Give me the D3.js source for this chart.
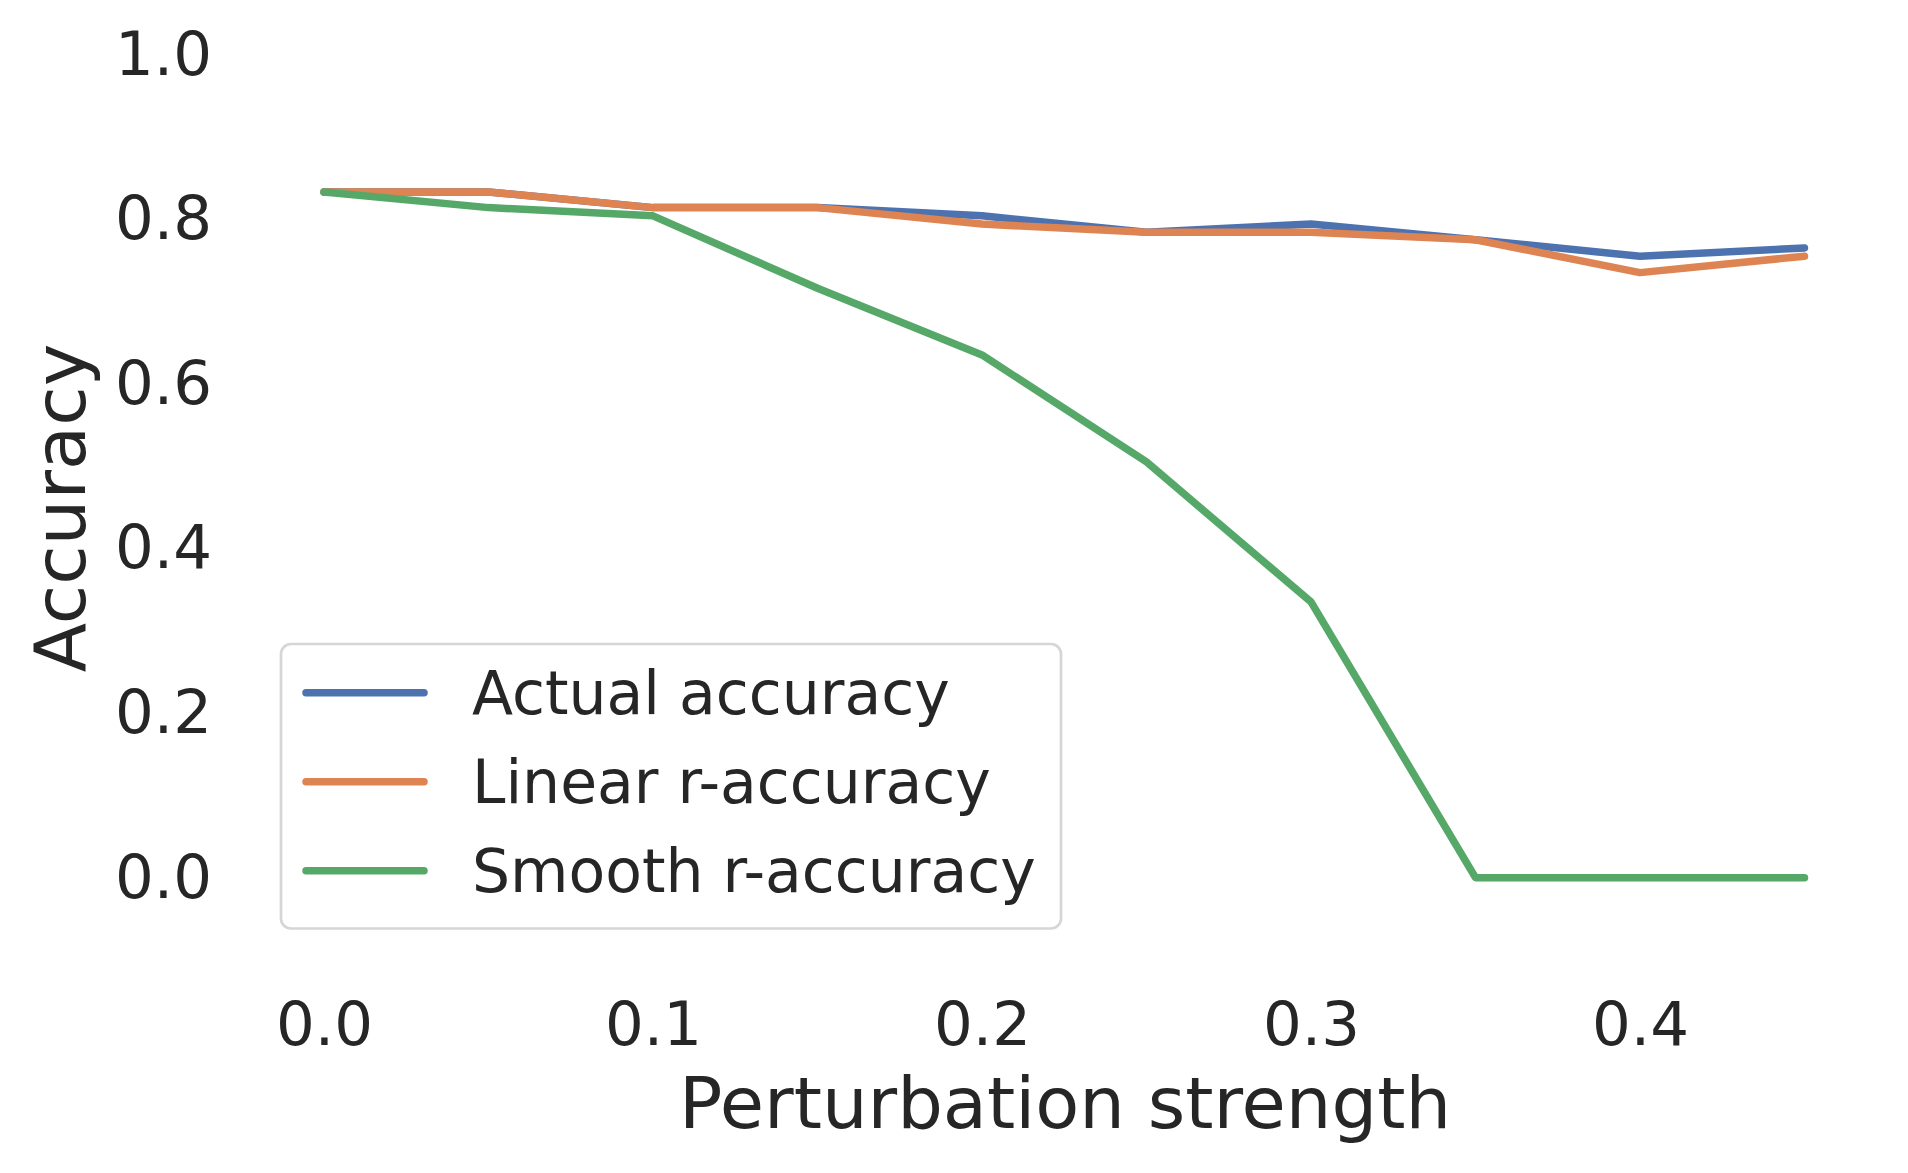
<!DOCTYPE html>
<html>
<head>
<meta charset="utf-8">
<script src="https://cdn.jsdelivr.net/npm/d3@7"></script>
<style>
  html, body { margin: 0; padding: 0; background: #fff; }
  svg { display: block; font-family: "DejaVu Sans", sans-serif; }
</style>
</head>
<body>
<div id="chart"></div>
<script>
// perturbation strengths on the x axis
const strengths = [0, 0.05, 0.1, 0.15, 0.2, 0.25, 0.3, 0.35, 0.4, 0.45];

// accuracy values per series
const actualAccuracy = [0.833, 0.833, 0.814, 0.814, 0.804, 0.784, 0.794, 0.775, 0.755, 0.765];
const linearAccuracy = [0.833, 0.833, 0.814, 0.814, 0.794, 0.784, 0.784, 0.775, 0.735, 0.755];
const smoothAccuracy = [0.833, 0.814, 0.804, 0.716, 0.635, 0.505, 0.335, 0, 0, 0];

const seriesNames = ['Actual accuracy', 'Linear r-accuracy', 'Smooth r-accuracy'];
const xTicks = [0, 0.1, 0.2, 0.3, 0.4];
const yTicks = [0, 0.2, 0.4, 0.6, 0.8, 1.0];

const width = 1908, height = 1173;
const colors = ['#4c72b0', '#dd8452', '#55a868'];
const textColor = '#262626';

const svg = d3.select('#chart')
  .append('svg')
  .attr('width', width)
  .attr('height', height);

// axes box (matplotlib style, with 5% x margins and ylim -0.1..1.0)
const x = d3.scaleLinear().domain([-0.0225, 0.4725]).range([250, 1878.5]);
const y = d3.scaleLinear().domain([-0.1, 1.0]).range([960, 54.5]);

const series = [actualAccuracy, linearAccuracy, smoothAccuracy].map((vals, i) => ({
  name: seriesNames[i],
  color: colors[i],
  points: vals.map((v, j) => ({ x: strengths[j], y: v }))
}));

// Tick labels only - no spines, no grid
const yAxis = svg.append('g')
  .attr('transform', `translate(${x.range()[0]},0)`)
  .call(d3.axisLeft(y).tickValues(yTicks).tickFormat(d3.format('.1f')).tickSize(0).tickPadding(38));

const xAxis = svg.append('g')
  .attr('transform', `translate(0,${y.range()[0]})`)
  .call(d3.axisBottom(x).tickValues(xTicks).tickFormat(d3.format('.1f')).tickSize(0).tickPadding(42));

[xAxis, yAxis].forEach(a => {
  a.select('.domain').remove();
  a.selectAll('text')
    .attr('font-family', '"DejaVu Sans", sans-serif')
    .attr('font-size', 61)
    .attr('fill', textColor);
});

// Axis titles
svg.append('text')
  .attr('x', 1065)
  .attr('y', 1128)
  .attr('text-anchor', 'middle')
  .attr('font-size', 72)
  .attr('fill', textColor)
  .text('Perturbation strength');

svg.append('text')
  .attr('transform', 'translate(85,508) rotate(-90)')
  .attr('text-anchor', 'middle')
  .attr('font-size', 72)
  .attr('fill', textColor)
  .text('Accuracy');

// Lines
const line = d3.line().x(d => x(d.x)).y(d => y(d.y));

svg.append('g')
  .selectAll('path.series')
  .data(series)
  .join('path')
  .attr('class', 'series')
  .attr('d', d => line(d.points))
  .attr('fill', 'none')
  .attr('stroke', d => d.color)
  .attr('stroke-width', 7.5)
  .attr('stroke-linecap', 'round')
  .attr('stroke-linejoin', 'round');

// Legend, lower left
const legend = svg.append('g').attr('class', 'legend');

legend.append('rect')
  .attr('x', 281)
  .attr('y', 644)
  .attr('width', 780)
  .attr('height', 284.5)
  .attr('rx', 10)
  .attr('fill', 'rgba(255,255,255,0.8)')
  .attr('stroke', '#d6d6d6')
  .attr('stroke-width', 2.7);

const item = legend.selectAll('g.item')
  .data(series)
  .join('g')
  .attr('class', 'item')
  .attr('transform', (d, i) => `translate(0,${692.7 + i * 89})`);

item.append('line')
  .attr('x1', 306)
  .attr('x2', 424)
  .attr('stroke', d => d.color)
  .attr('stroke-width', 7.5)
  .attr('stroke-linecap', 'round');

item.append('text')
  .attr('x', 472)
  .attr('y', 21.3)
  .attr('font-size', 60)
  .attr('fill', textColor)
  .text(d => d.name);
</script>
</body>
</html>
